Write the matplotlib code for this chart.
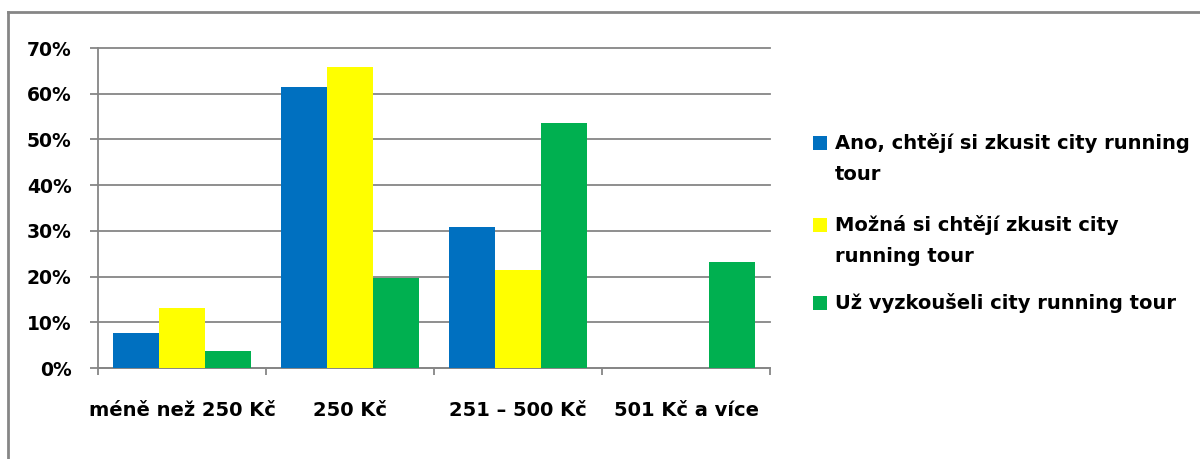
import matplotlib
matplotlib.use("Agg")
import matplotlib.pyplot as plt
from matplotlib.patches import Rectangle
from matplotlib.lines import Line2D
from matplotlib.ticker import FuncFormatter, MultipleLocator
import numpy as np

plt.rcParams['font.family'] = ['DejaVu Sans']
plt.rcParams['font.weight'] = 'bold'

categories = ["méně než 250 Kč", "250 Kč", "251 – 500 Kč", "501 Kč a více"]
series_names = [
    "Ano, chtějí si zkusit city running\ntour",
    "Možná si chtějí zkusit city\nrunning tour",
    "Už vyzkoušeli city running tour",
]
ano = [7.7, 61.5, 30.8, 0.0]
mozna = [13.2, 65.8, 21.4, 0.0]
uz = [3.7, 19.7, 53.7, 23.2]
series_values = [ano, mozna, uz]
colors = ["#0070C0", "#FFFF00", "#00B050"]
grid_grey = "#868686"

W, H = 1200, 459
fig = plt.figure(figsize=(W / 100, H / 100), dpi=100)

def fx(px):
    return px / W

def fy(py):
    return 1 - py / H

ax = fig.add_axes([fx(98), fy(368), fx(770) - fx(98), fy(48) - fy(368)])

x = np.arange(len(categories))
bw = 0.274
for i, vals in enumerate(series_values):
    ax.bar(x + (i - 1) * bw, vals, width=bw, color=colors[i], edgecolor='none', zorder=3)

ax.set_xlim(-0.5, len(categories) - 0.5)
ax.set_ylim(0, 70)
ax.yaxis.set_major_locator(MultipleLocator(10))
ax.yaxis.set_major_formatter(FuncFormatter(lambda v, p: f"{int(round(v))}%"))
ax.grid(axis='y', color=grid_grey, linewidth=1.3, zorder=0)
ax.set_axisbelow(True)
for gl in ax.get_ygridlines():
    gl.set_clip_on(False)

for s in ['top', 'right']:
    ax.spines[s].set_visible(False)
for s in ['left', 'bottom']:
    ax.spines[s].set_color(grid_grey)
    ax.spines[s].set_linewidth(1.3)

# category labels centred, boundary ticks between groups
ax.set_xticks(x)
ax.set_xticklabels(categories, fontsize=14, fontweight='bold')
ax.tick_params(axis='x', which='major', length=0, pad=24)
ax.set_xticks(np.arange(-0.5, len(categories), 1.0), minor=True)
ax.tick_params(axis='x', which='minor', length=5, width=1.3, color=grid_grey, direction='out')
ax.tick_params(axis='y', length=6, width=1.3, color=grid_grey, pad=13, labelsize=13.5)
for t in ax.get_yticklabels():
    t.set_fontweight('bold')

# legend on the right
entry_y = [143, 225, 303]
for name, col, y0 in zip(series_names, colors, entry_y):
    fig.patches.append(Rectangle((fx(813), fy(y0 + 7)), fx(14), 14 / H,
                                 transform=fig.transFigure, facecolor=col,
                                 edgecolor='none'))
    for j, line in enumerate(name.split("\n")):
        fig.text(fx(835), fy(y0 + j * 32), line, fontsize=14, fontweight='bold',
                 va='center', ha='left')

# chart frame
fig.lines.append(Line2D([fx(8), fx(8)], [fy(12), 0], transform=fig.transFigure,
                        color=grid_grey, linewidth=2))
fig.lines.append(Line2D([fx(8), 1], [fy(12), fy(12)], transform=fig.transFigure,
                        color=grid_grey, linewidth=2))

fig.savefig("out.png", dpi=100)
